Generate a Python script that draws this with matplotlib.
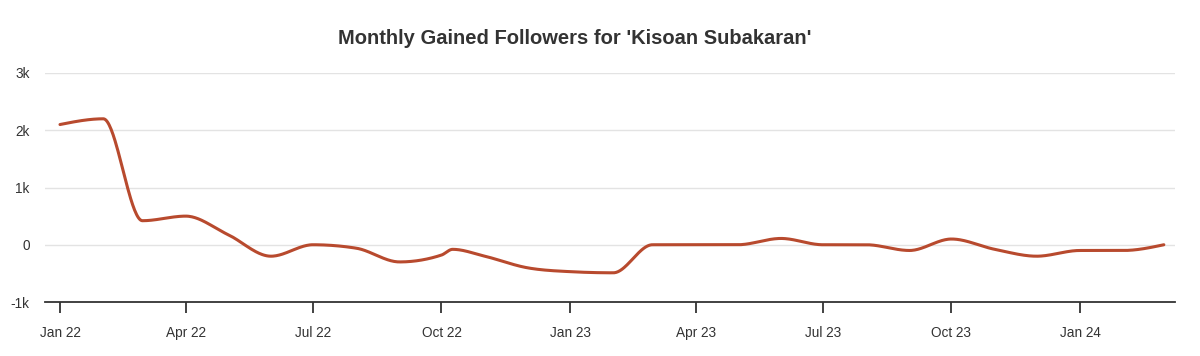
import numpy as np
import pandas as pd
import matplotlib
matplotlib.use("Agg")
import matplotlib.pyplot as plt
import matplotlib.dates as mdates
from matplotlib.ticker import FixedLocator

# ---- data ----
dates = ["2022-01-01", "2022-02-01", "2022-03-01", "2022-04-01", "2022-05-01",
         "2022-06-01", "2022-07-01", "2022-08-01", "2022-09-01", "2022-10-01",
         "2022-10-09", "2022-11-01", "2022-12-01", "2023-01-01", "2023-02-01",
         "2023-03-01", "2023-04-01", "2023-05-01", "2023-06-01", "2023-07-01",
         "2023-08-01", "2023-09-01", "2023-10-01", "2023-11-01", "2023-12-01",
         "2024-01-01", "2024-02-01", "2024-03-01"]
followers = [2100, 2200, 420, 500, 180,
             -200, 0, -60, -300, -180,
             -80, -200, -400, -470, -490,
             0, 0, 0, 110, 0,
             0, -100, 100, -80, -200,
             -100, -100, 0]
tick_dates = ["2022-01-01", "2022-04-01", "2022-07-01", "2022-10-01",
              "2023-01-01", "2023-04-01", "2023-07-01", "2023-10-01", "2024-01-01"]
tick_labels = ["Jan 22", "Apr 22", "Jul 22", "Oct 22", "Jan 23",
               "Apr 23", "Jul 23", "Oct 23", "Jan 24"]
y_ticks = [-1000, 0, 1000, 2000, 3000]
y_tick_labels = ["-1k", "0", "1k", "2k", "3k"]
title = "Monthly Gained Followers for 'Kisoan Subakaran'"

LINE = "#b84a2e"
TEXT = "#333333"


def monotone_x(x, y, n=40):
    """Monotone cubic (d3 curveMonotoneX style) used only to draw the smooth line."""
    x = np.asarray(x, float)
    y = np.asarray(y, float)
    h = np.diff(x)
    s = np.diff(y) / h
    m = np.zeros_like(y)
    for i in range(1, len(x) - 1):
        s0, s1 = s[i - 1], s[i]
        p = (s0 * h[i] + s1 * h[i - 1]) / (h[i - 1] + h[i])
        m[i] = (np.sign(s0) + np.sign(s1)) * min(abs(s0), abs(s1), 0.5 * abs(p))
    m[0] = (3 * s[0] - m[1]) / 2
    m[-1] = (3 * s[-1] - m[-2]) / 2
    xs, ys = [], []
    for i in range(len(x) - 1):
        t = np.linspace(0, 1, n, endpoint=(i == len(x) - 2))
        h00 = 2 * t**3 - 3 * t**2 + 1
        h10 = t**3 - 2 * t**2 + t
        h01 = -2 * t**3 + 3 * t**2
        h11 = t**3 - t**2
        xs.append(x[i] + t * h[i])
        ys.append(h00 * y[i] + h10 * h[i] * m[i] + h01 * y[i + 1] + h11 * h[i] * m[i + 1])
    return np.concatenate(xs), np.concatenate(ys)


dt = pd.to_datetime(dates)
xnum = mdates.date2num(dt)
xs, ys = monotone_x(xnum, followers)

plt.rcParams["font.family"] = ["Liberation Sans", "DejaVu Sans"]

fig = plt.figure(figsize=(12, 3.56), dpi=100)
ax = fig.add_axes([45 / 1200, (356 - 302) / 356, (1175 - 45) / 1200, (302 - 73) / 356])

ax.plot(xs, ys, color=LINE, lw=2.2, solid_capstyle="round", zorder=3)

x0 = mdates.date2num(pd.Timestamp("2022-01-01"))
ppd = (1080 - 60) / 730.0
ax.set_xlim(x0 - 15 / ppd, x0 + (1175 - 60) / ppd)
ax.set_ylim(-1000, 3000)

ax.xaxis.set_major_locator(FixedLocator(mdates.date2num(pd.to_datetime(tick_dates))))
ax.set_xticklabels(tick_labels)
ax.set_yticks(y_ticks)
ax.set_yticklabels(y_tick_labels)

ax.grid(axis="y", color="#e3e3e3", lw=1.0, zorder=0)
ax.grid(axis="x", visible=False)
for sp in ["left", "right", "top"]:
    ax.spines[sp].set_visible(False)
ax.spines["bottom"].set_color(TEXT)
ax.spines["bottom"].set_linewidth(1.3)

ax.tick_params(axis="x", length=8, width=1.3, color=TEXT, labelsize=9.8,
               labelcolor=TEXT, pad=9)
ax.tick_params(axis="y", length=0, labelsize=9.8, labelcolor=TEXT, pad=11)

fig.text(575 / 1200, 1 - 38 / 356, title, ha="center", va="center",
         fontsize=14.5, fontweight="bold", color=TEXT)

fig.savefig("out.png", dpi=100, facecolor="white")
